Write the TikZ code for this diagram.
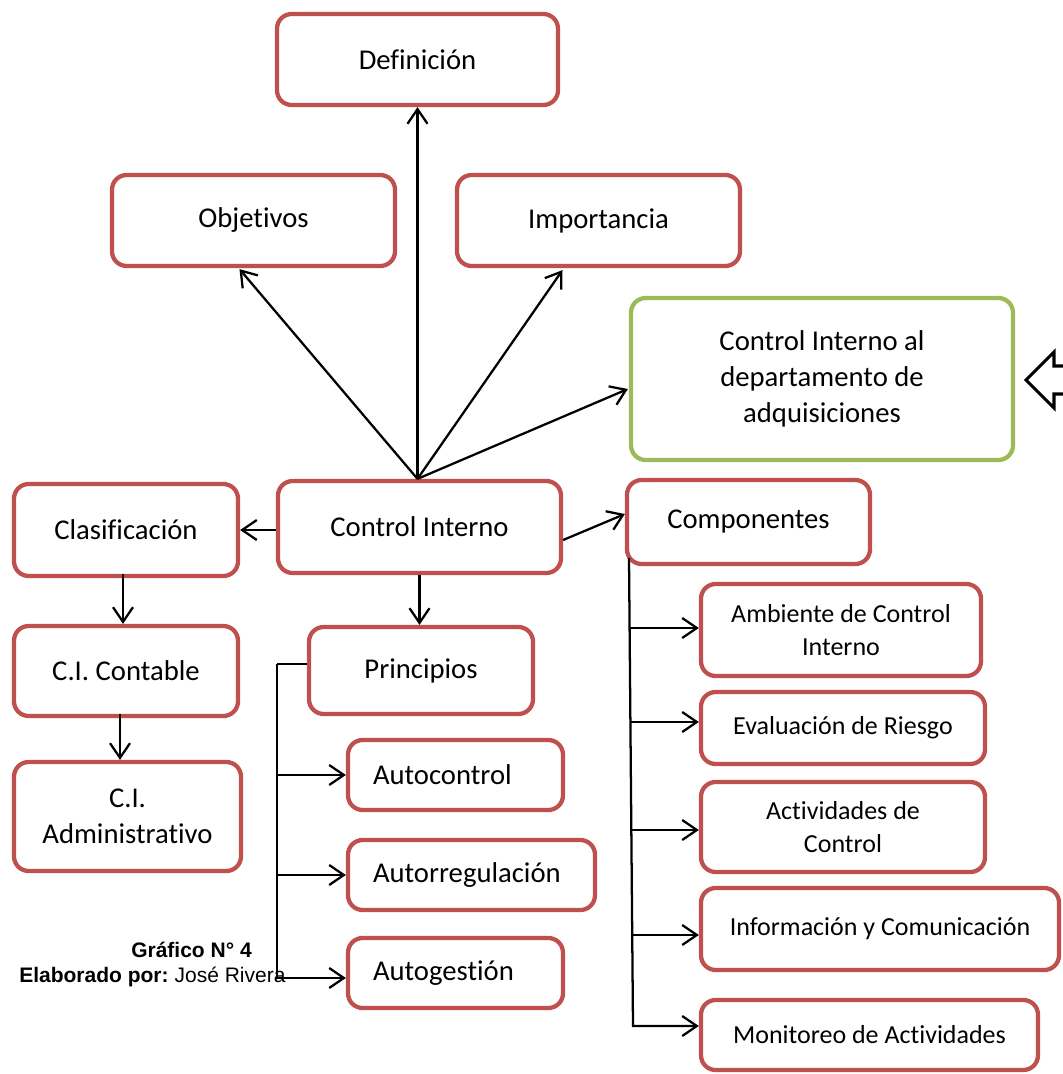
\documentclass[tikz,border=0pt]{standalone}
\usepackage{fontspec}
\setmainfont{Carlito}[Ligatures=NoCommon]
\newfontfamily\capfont{Liberation Sans}
\usetikzlibrary{arrows.meta,calc}
\definecolor{boxred}{HTML}{C0504D}
\definecolor{boxgreen}{HTML}{9BBB59}
\newcommand\mainsize{\fontsize{21.5}{27}\selectfont}
\newcommand\subsize{\fontsize{19.5}{24.5}\selectfont}
\tikzset{
  box/.style={draw=boxred, line width=3.2pt, rounded corners=11pt, inner sep=0pt,
    fill=white, font=\mainsize, align=center},
  subbox/.style={box, font=\subsize},
  greenbox/.style={box, draw=boxgreen},
  size/.style n args={2}{minimum width=#1, minimum height=#2},
  leftbox/.style={box, text width=#1, align=left},
  arr/.style={line width=1.7pt, -{Straight Barb[length=11pt,width=15pt]}},
  link/.style={line width=1.7pt},
  caption/.style={inner sep=0pt, anchor=base west, font=\capfont\fontsize{15.75}{19}\selectfont},
}
\begin{document}
\begin{tikzpicture}[x=0.75pt, y=-0.75pt]
\useasboundingbox (0,0) rectangle (1063,1074);
\clip (0,0) rectangle (1063,1074);

% top row
\node[box, size={210.75pt}{68.25pt}] (def) at (417.5,59.5) {Definición};
\node[box, size={212.25pt}{68.25pt}] (obj) at (253.5,220.5) {Objetivos};
\node[box, size={212.25pt}{68.25pt}] (imp) at (598.5,220.5) {Importancia};
\node[greenbox, size={286.5pt}{121.5pt}] (green) at (822,379)
  {\rule{0pt}{6pt}Control Interno al\\departamento de\\adquisiciones};

% middle row
\node[box, size={168pt}{69pt}] (clas) at (126,530) {Clasificación};
\node[box, size={212.25pt}{69pt}] (ci) at (419.5,527) {Control Interno};
\node[box, size={182.25pt}{63pt}] (comp) at (748.5,522) {Componentes};

% classification branch
\node[box, size={168pt}{67.5pt}] (cic) at (126,671) {C.I. Contable};
\node[box, size={170.25pt}{81.75pt}] (cia) at (127.5,816.5) {C.I.\\Administrativo};

% principles branch
\node[box, size={168pt}{65.25pt}] (prin) at (421,670.5) {Principios};
\node[leftbox=123.75pt, size={161.25pt}{52.5pt}] (autoc) at (455.5,775) {Autocontrol};
\node[leftbox=147.75pt, size={185.25pt}{52.5pt}] (autor) at (471.5,875) {Autorregulación};
\node[leftbox=123.75pt, size={161.25pt}{52.5pt}] (autog) at (455.5,973) {Autogestión};

% components branch
\node[subbox, size={210pt}{69pt}] (amb) at (841,630) {Ambiente de Control\\Interno};
\node[subbox, size={213pt}{54pt}] (eval) at (843,728) {Evaluación de Riesgo};
\node[subbox, size={213pt}{67.5pt}] (act) at (843,827) {Actividades de\\Control};
\node[subbox, size={268.5pt}{61.5pt}] (info) at (880,929) {Información y Comunicación};
\node[subbox, size={252.75pt}{52.5pt}] (mon) at (869.5,1035) {Monitoreo de Actividades};

% caption
\node[caption] (cap1) at (131,957) {\textbf{Gráfico N° 4}};
\node[caption] (cap2) at (19,982) {\textbf{Elaborado por:}\hspace{4.5pt}José Rivera};

% connectors from Control Interno
\coordinate (hub) at ($(ci.north)+(-2,0)$);
\draw[arr] (hub) -- (def.south);
\draw[arr] (hub) -- ($(obj.south)+(-14,1)$);
\draw[arr] (hub) -- ($(imp.south)+(-36,2)$);
\draw[arr] (hub) -- ($(green.west)+(-1,10)$);
\draw[arr] (ci.west |- clas.east) -- (clas.east);
\draw[arr] ($(ci.east)+(0,13)$) -- ($(comp.west)+(0,-8)$);
\draw[arr] (ci.south) -- (ci.south |- prin.north);

% classification chain
\draw[arr] ($(clas.south)+(-3,-4)$) -- ($(cic.north)+(-3,0)$);
\draw[arr] ($(cic.south)+(-6,-4)$) -- ($(cia.north)+(-7.5,0)$);

% principles bracket
\coordinate (pt) at (277,664);
\draw[link] (prin.west |- pt) -- (pt);
\draw[arr] (pt |- autoc.west) -- (autoc.west);
\draw[arr] (pt |- autor.west) -- (autor.west);
\draw[arr] (pt) -- ($(pt |- autog.west)+(0,5)$) -- ($(autog.west)+(0,5)$);

% components bracket
\coordinate (ct) at (629,558);
\coordinate (cb) at (633,1026);
\draw[arr] ($(ct |- amb.west)+(1,-2)$) -- ($(amb.west)+(0,-2)$);
\draw[arr] ($(ct |- eval.west)+(1,-6)$) -- ($(eval.west)+(0,-6)$);
\draw[arr] ($(ct |- act.west)+(2,3)$) -- ($(act.west)+(0,3)$);
\draw[arr] ($(ct |- info.west)+(3,6)$) -- ($(info.west)+(0,6)$);
\draw[arr] (ct) -- (cb) -- (cb -| mon.west);

% block arrow pointing at the green box
\draw[line width=2.3pt, line join=miter, fill=white]
  (1080,366) -- (1054,366) -- (1054,352) -- (1026,380)
  -- (1054,408) -- (1054,394) -- (1080,394);
\end{tikzpicture}
\end{document}
